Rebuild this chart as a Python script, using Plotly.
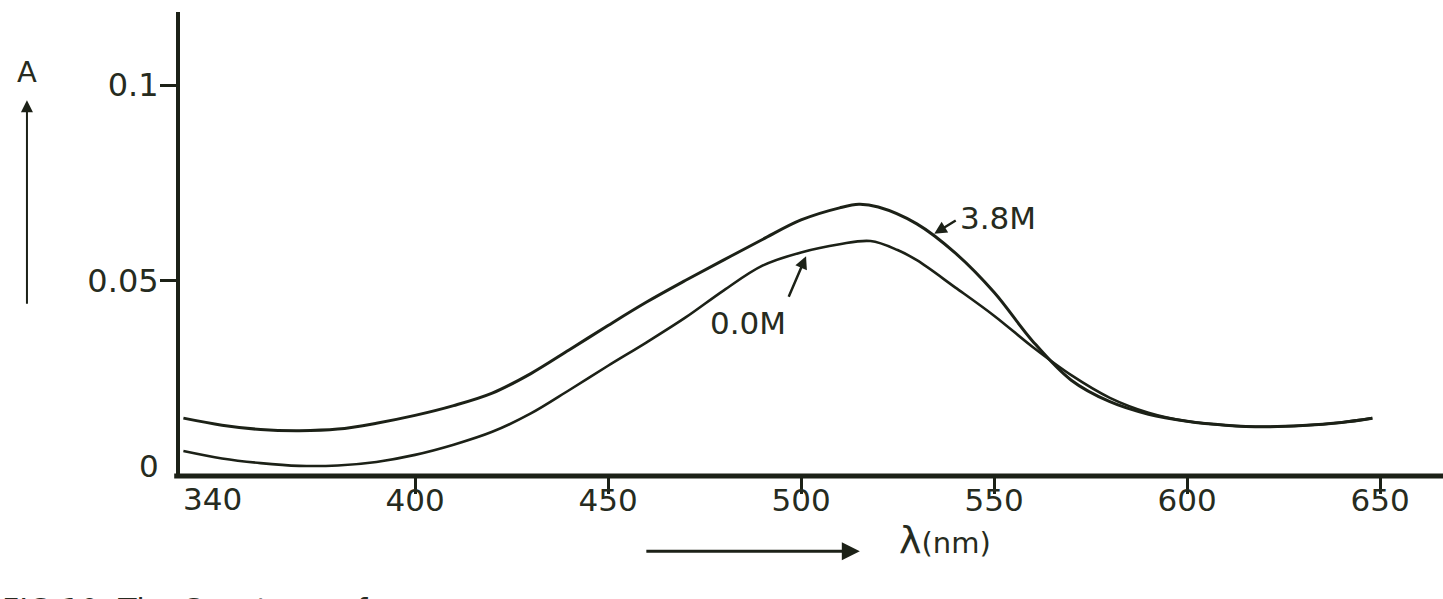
import plotly.graph_objects as go

# ---- data ----
wl_38 = [340, 350, 360, 370, 380, 390, 400, 410, 420, 430, 440, 450, 460, 470, 480,
         490, 500, 510, 515, 520, 530, 540, 550, 560, 570, 580, 590, 600, 610, 620,
         630, 640, 648]
A_38 = [0.0148, 0.0130, 0.0119, 0.0116, 0.0120, 0.0135, 0.0155, 0.0180, 0.0212, 0.0262,
        0.0323, 0.0385, 0.0445, 0.0500, 0.0553, 0.0605, 0.0655, 0.0686, 0.0695, 0.0688,
        0.0645, 0.0570, 0.0470, 0.0345, 0.0245, 0.0190, 0.0158, 0.0140, 0.0130, 0.0126,
        0.0129, 0.0137, 0.0148]

wl_00 = [340, 350, 360, 370, 380, 390, 400, 410, 420, 430, 440, 450, 460, 470, 480,
         490, 500, 510, 518, 525, 530, 540, 550, 560, 570, 580, 590, 600, 610, 620,
         630, 640, 648]
A_00 = [0.0064, 0.0045, 0.0033, 0.0026, 0.0027, 0.0036, 0.0054, 0.0080, 0.0113, 0.0160,
        0.0220, 0.0282, 0.0342, 0.0405, 0.0475, 0.0538, 0.0572, 0.0593, 0.0601, 0.0578,
        0.0552, 0.0482, 0.0410, 0.0330, 0.0258, 0.0200, 0.0162, 0.0140, 0.0130, 0.0126,
        0.0129, 0.0137, 0.0148]

x_ticks = [400, 450, 500, 550, 600, 650]
x_ticktext = ["400", "450", "500", "550", "600", "650"]
y_ticks = [0.05, 0.1]
y_ticktext = ["0.05", "0.1"]

INK = "#1c2117"
TXT = "#262b20"
FONT = "DejaVu Sans"
TS = 31

fig = go.Figure()
fig.add_trace(go.Scatter(x=wl_38, y=A_38, mode="lines",
                         line=dict(color=INK, width=3, shape="spline", smoothing=1.0),
                         showlegend=False, hoverinfo="skip"))
fig.add_trace(go.Scatter(x=wl_00, y=A_00, mode="lines",
                         line=dict(color=INK, width=2.6, shape="spline", smoothing=1.0),
                         showlegend=False, hoverinfo="skip"))

fig.update_layout(
    width=1443, height=599,
    margin=dict(l=178, r=0, t=12, b=123),
    paper_bgcolor="white", plot_bgcolor="white",
    font=dict(family=FONT, color=TXT, size=TS),
    xaxis=dict(range=[338.6, 666.3], showgrid=False, zeroline=False, showline=False,
               tickmode="array", tickvals=x_ticks, ticktext=x_ticktext,
               ticks="outside", ticklen=17, tickwidth=3, tickcolor=INK,
               ticklabelstandoff=-20,
               tickfont=dict(family=FONT, size=TS, color=TXT)),
    yaxis=dict(range=[0, 0.1187], showgrid=False, zeroline=False, showline=False,
               tickmode="array", tickvals=y_ticks, ticktext=y_ticktext,
               ticks="outside", ticklen=17, tickwidth=3, tickcolor=INK,
               ticklabelstandoff=-5,
               tickfont=dict(family=FONT, size=32, color=TXT)),
)

# axis lines (thick, as in the drawing)
fig.add_shape(type="line", xref="paper", yref="paper", x0=-0.003, x1=1.0, y0=0, y1=0,
              line=dict(color=INK, width=5))
fig.add_shape(type="line", xref="paper", yref="paper", x0=0, x1=0, y0=0, y1=1.0,
              line=dict(color=INK, width=4))

# origin labels
fig.add_annotation(x=340, y=0, xref="x", yref="y", text="340", showarrow=False,
                   xanchor="center", yanchor="middle",
                   xshift=29, yshift=-23, font=dict(family=FONT, size=TS, color=TXT))
fig.add_annotation(x=0, y=0, xref="paper", yref="y", text="0", showarrow=False,
                   xanchor="right", yanchor="middle", xshift=-17, yshift=10,
                   font=dict(family=FONT, size=TS, color=TXT))

# y-axis title with arrow
fig.add_annotation(x=-0.1194, y=0.87, xref="paper", yref="paper", text="A",
                   xanchor="center", yanchor="middle",
                   showarrow=False, font=dict(family=FONT, size=29, color=TXT))
fig.add_annotation(x=-0.1194, y=0.81, xref="paper", yref="paper", text="",
                   showarrow=True, ax=0, ay=205, arrowhead=2, arrowsize=1.2,
                   arrowwidth=2, arrowcolor=INK)

# x-axis title with arrow
fig.add_annotation(x=0.539, y=-0.162, xref="paper", yref="paper", text="",
                   showarrow=True, ax=-215, ay=0, arrowhead=2, arrowsize=1.2,
                   arrowwidth=3, arrowcolor=INK)
fig.add_annotation(x=0.6065, y=-0.139, xref="paper", yref="paper",
                   xanchor="center", yanchor="middle",
                   text="<span style='font-size:38px'>λ</span>(nm)", showarrow=False,
                   font=dict(family=FONT, size=29, color=TXT))

# curve labels
fig.add_annotation(x=534.5, y=0.0620, xref="x", yref="y", text="",
                   showarrow=True, ax=23, ay=-14, arrowhead=2, arrowsize=1,
                   arrowwidth=2.5, arrowcolor=INK)
fig.add_annotation(x=535, y=0.0620, xref="x", yref="y", text="3.8M", showarrow=False,
                   xanchor="left", yanchor="middle", xshift=22, yshift=16,
                   font=dict(family=FONT, size=TS, color=TXT))
fig.add_annotation(x=501.3, y=0.0562, xref="x", yref="y", text="",
                   showarrow=True, ax=-18, ay=42, arrowhead=2, arrowsize=1,
                   arrowwidth=2.5, arrowcolor=INK)
fig.add_annotation(x=0.4506, y=0.3305, xref="paper", yref="paper", text="0.0M",
                   xanchor="center", yanchor="middle",
                   showarrow=False, font=dict(family=FONT, size=TS, color=TXT))

# figure caption (cut off at the bottom of the scan, as in the reference)
fig.add_annotation(x=-0.1407, y=-0.245, xref="paper", yref="paper",
                   text="FIG.10  The Spectrum of", showarrow=False,
                   xanchor="left", yanchor="top",
                   font=dict(family=FONT, size=30, color=TXT))

fig.write_html("out.html")
